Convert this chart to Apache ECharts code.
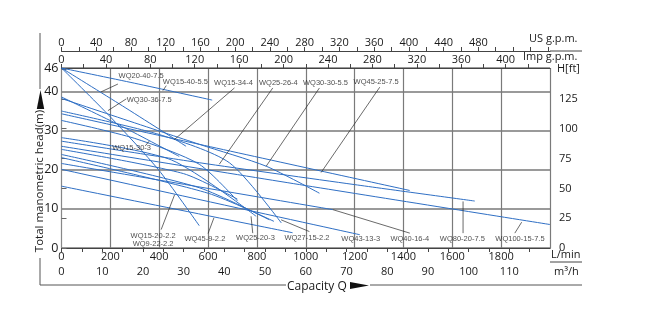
<!DOCTYPE html>
<html><head><meta charset="utf-8">
<script src="https://cdn.jsdelivr.net/npm/echarts@6/dist/echarts.min.js"></script>
<style>html,body{margin:0;padding:0;background:#fff}#c{width:661px;height:327px}</style>
</head><body><div id="c"></div>
<script>
// ---- DATA (L/min, metres) ----
const flowTicksLmin = [0,200,400,600,800,1000,1200,1400,1600,1800];
const headTicksM = [0,10,20,30,40,46];
const ftTicks = [0,25,50,75,100,125];
const m3hTicks = [0,10,20,30,40,50,60,70,80,90,100,110];
const impTicks = [0,40,80,120,160,200,240,280,320,360,400];
const usTicks = [0,40,80,120,160,200,240,280,320,360,400,440,480];

const curve01 = [[0,46],[300,42.1],[617,37.8]];
const curve02 = [[0,46],[250,36.3],[510,26]];
const curve03 = [[0,46],[200,33.5],[397,20],[564,5.7]];
const curve04 = [[0,38.6],[250,31],[482,23.4]];
const curve05 = [[0,38.2],[564,26.5],[838,20.9],[1056,14]];
const curve06 = [[0,35],[400,29],[687,21.8],[900,6.4]];
const curve07 = [[0,34.3],[564,26.5],[1426,14.7]];
const curve08 = [[0,32.6],[300,28],[564,21.4],[721,12]];
const curve09 = [[0,27.3],[564,21.8],[1200,16.2],[1692,12]];
const curve10 = [[0,26],[975,16.2],[2000,6]];
const curve11 = [[0,23.9],[564,15.4],[851,7.2]];
const curve12 = [[0,21.6],[1111,9.8]];
const curve13 = [[0,20.1],[1221,3.4]];
const curve14 = [[0,15.8],[946,3.9]];
const curve15 = [[0,28.2],[450,22.5],[797,8.1]];
const curve16 = [[0,25.2],[500,19],[720,12.5]];
const curve17 = [[0,23.1],[600,14],[870,6.8]];
const curves = [curve01,curve02,curve03,curve04,curve05,curve06,curve07,curve08,curve09,
  curve10,curve11,curve12,curve13,curve14,curve15,curve16,curve17];

// model labels and their pointer lines (L/min, metres)
const labelNames = ['WQ20-40-7.5','WQ15-40-5.5','WQ30-36-7.5','WQ15-34-4','WQ25-26-4','WQ30-30-5.5',
  'WQ45-25-7.5','WQ15-30-3','WQ15-20-2.2','WQ9-22-2.2','WQ45-9-2.2','WQ25-20-3','WQ27-15-2.2',
  'WQ43-13-3','WQ40-16-4','WQ80-20-7.5','WQ100-15-7.5'];
const labelAt = [[326,44.0],[507,42.5],[359,37.8],[704,42.3],[888,42.3],[1081,42.3],
  [1288,42.4],[287,25.5],[375,3.1],[375,1.1],[587,2.3],[794,2.6],[1005,2.6],
  [1225,2.4],[1426,2.4],[1641,2.4],[1877,2.4]];
const pointers = [
  [[231,41.9],[162,39.9]], [[429,41.5],[415,40.2]], [[265,38.1],[190,35.1]],
  [[708,40.9],[462,27.7]], [[865,40.9],[646,21.4]], [[1056,40.9],[838,20.9]],
  [[1303,41.1],[1063,19.3]], [[343,26.1],[359,27.3]], [[408,4.7],[463,13.6]],
  [[600,3.7],[624,7.7]], [[783,3.8],[776,8.1]], [[1015,4.2],[899,7.2]],
  [[1426,3.8],[1111,9.8]], [[1644,3.8],[1644,11.9]], [[1856,3.8],[1884,6.6]]
];

const M_TO_FT = 3.28084;
const LMIN_MAX = 2000, HEAD_MAX = 46;

const chart = echarts.init(document.getElementById('c'), null, {renderer:'canvas'});
const FONT = 'Open Sans';
const txt = {fontFamily:FONT, fontSize:11, color:'#1a1a1a'};

const series = [];
curves.forEach((c,i)=>series.push({type:'line', name:'c'+i, data:c, showSymbol:false, smooth:0.25,
  lineStyle:{color:'#2f6fc4', width:1}, xAxisIndex:0, yAxisIndex:0, silent:true, z:3}));
pointers.forEach((p,i)=>series.push({type:'line', data:p, showSymbol:false,
  lineStyle:{color:'#2a2a2a', width:0.7}, xAxisIndex:0, yAxisIndex:0, silent:true, z:4}));
series.push({type:'scatter', symbolSize:0, xAxisIndex:0, yAxisIndex:0, silent:true, z:5,
  data: labelNames.map((n,i)=>({name:n, value:labelAt[i]})),
  label:{show:true, position:'inside', formatter:'{b}', fontFamily:'Liberation Sans', fontSize:7.5, color:'#222'}});

function unitText(t, x, y){
  return {type:'text', x:x, y:y, style:{text:t, fontFamily:FONT, fontSize:11, fill:'#1a1a1a', align:'left', verticalAlign:'middle'}};
}

chart.setOption({
  animation:false,
  grid:{left:61.5, top:68, right:111, bottom:79, containLabel:false},
  xAxis:[
    {type:'value', position:'bottom', min:0, max:LMIN_MAX, interval:200,
     axisLine:{show:true, lineStyle:{color:'#444', width:1}}, axisTick:{show:false},
     axisLabel:Object.assign({margin:3, showMaxLabel:false, formatter:v=>flowTicksLmin.includes(v)?String(v):''}, txt),
     splitLine:{show:true, lineStyle:{color:'#7a7a7a', width:1.2}}},
    {type:'value', position:'bottom', offset:14, min:0, max:LMIN_MAX/16.6667, interval:5,
     axisLine:{show:true, lineStyle:{color:'#444', width:1}},
     axisTick:{show:true, length:4, lineStyle:{color:'#444'}},
     axisLabel:Object.assign({margin:4, showMaxLabel:false, formatter:v=>m3hTicks.includes(v)?String(v):''}, txt),
     splitLine:{show:false}},
    {type:'value', position:'top', offset:0, min:0, max:LMIN_MAX*0.219969, interval:20,
     axisLine:{show:true, lineStyle:{color:'#444', width:1}},
     axisTick:{show:true, length:4, lineStyle:{color:'#444'}},
     axisLabel:Object.assign({margin:3, showMaxLabel:false, formatter:v=>impTicks.includes(v)?String(v):''}, txt),
     splitLine:{show:false}},
    {type:'value', position:'top', offset:17, min:0, max:562.5, interval:20,
     axisLine:{show:true, lineStyle:{color:'#444', width:1}},
     axisTick:{show:true, length:4, lineStyle:{color:'#444'}},
     axisLabel:Object.assign({margin:3, showMaxLabel:false, formatter:v=>usTicks.includes(v)?String(v):''}, txt),
     splitLine:{show:false}}
  ],
  yAxis:[
    {type:'value', position:'left', min:0, max:HEAD_MAX, interval:10,
     axisLine:{show:true, lineStyle:{color:'#444', width:1}}, axisTick:{show:false},
     axisLabel:Object.assign({margin:3, showMaxLabel:true, formatter:v=>headTicksM.includes(v)?String(v):''}, txt, {fontSize:12.5}),
     splitLine:{show:true, lineStyle:{color:'#9a9a9a', width:2}}},
    {type:'value', position:'right', min:0, max:HEAD_MAX*M_TO_FT, interval:25,
     axisLine:{show:true, lineStyle:{color:'#888', width:1}},
     axisTick:{show:true, length:5, lineStyle:{color:'#666'}},
     axisLabel:Object.assign({margin:9, showMaxLabel:false, formatter:v=>ftTicks.includes(v)?String(v):''}, txt),
     splitLine:{show:false}}
  ],
  graphic:[
    {type:'line', shape:{x1:40,y1:33,x2:40,y2:89}, style:{stroke:'#555', lineWidth:1}},
    {type:'polygon', shape:{points:[[40.5,90],[36.8,109],[44.2,109]]}, style:{fill:'#111'}},
    {type:'text', x:39.5, y:181, rotation:Math.PI/2,
     style:{text:'Total manometric head(m)', fontFamily:FONT, fontSize:11.5, fill:'#1a1a1a', align:'center', verticalAlign:'middle'}},
    {type:'polyline', shape:{points:[[40,258],[40,285],[286,285]]}, style:{stroke:'#555', lineWidth:1, fill:null}},
    {type:'text', x:287, y:287,
     style:{text:'Capacity Q', fontFamily:FONT, fontSize:12, fill:'#1a1a1a', align:'left', verticalAlign:'middle'}},
    {type:'polygon', shape:{points:[[350,282],[350,289],[369,285.5]]}, style:{fill:'#111'}},
    {type:'line', shape:{x1:370,y1:285,x2:582,y2:285}, style:{stroke:'#555', lineWidth:1}},
    {type:'line', shape:{x1:550,y1:51,x2:582,y2:51}, style:{stroke:'#444', lineWidth:1}},
    {type:'line', shape:{x1:550,y1:262,x2:582,y2:262}, style:{stroke:'#444', lineWidth:1}},
    unitText('US g.p.m.', 529, 39),
    unitText('Imp g.p.m.', 523, 57),
    unitText('H[ft]', 557, 69),
    unitText('L/min', 551, 255),
    unitText('m³/h', 554, 272)
  ],
  series: series
});
</script></body></html>
